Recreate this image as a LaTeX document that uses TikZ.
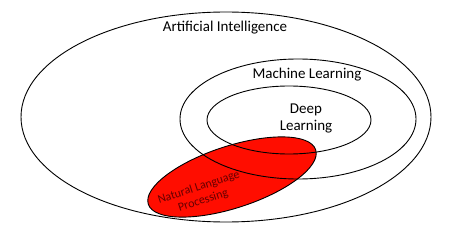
\documentclass[tikz,border=0pt]{standalone}
\usepackage{fontspec}
\setmainfont{Carlito}
\usepackage{tikz}

\begin{document}
\begin{tikzpicture}[x=1pt,y=1pt,line width=0.9pt]
      \useasboundingbox[fill=white] (0,0) rectangle (450,236);
      \draw (226,119) ellipse (205 and 105);
      \draw[fill=red!90!orange, rotate around={18:(232,59)}] (232,59) ellipse (88 and 31);
      \draw (298,117) ellipse (118 and 60);
      \draw (289,116) ellipse (82 and 34);
      \node[font=\fontsize{15}{18}\selectfont] (ai) at (225,208) {Artificial Intelligence};
      \node[font=\fontsize{15}{18}\selectfont] (ml) at (307,161) {Machine Learning};
      \node[align=center, font=\fontsize{15}{17}\selectfont] (dl) at (306,118) {Deep\\Learning};
      \node[align=center, rotate=18, text=red!40!black, font=\fontsize{12}{14}\selectfont] (nlp) at (201,42) {Natural Language\\Processing};
    \end{tikzpicture}
\end{document}
